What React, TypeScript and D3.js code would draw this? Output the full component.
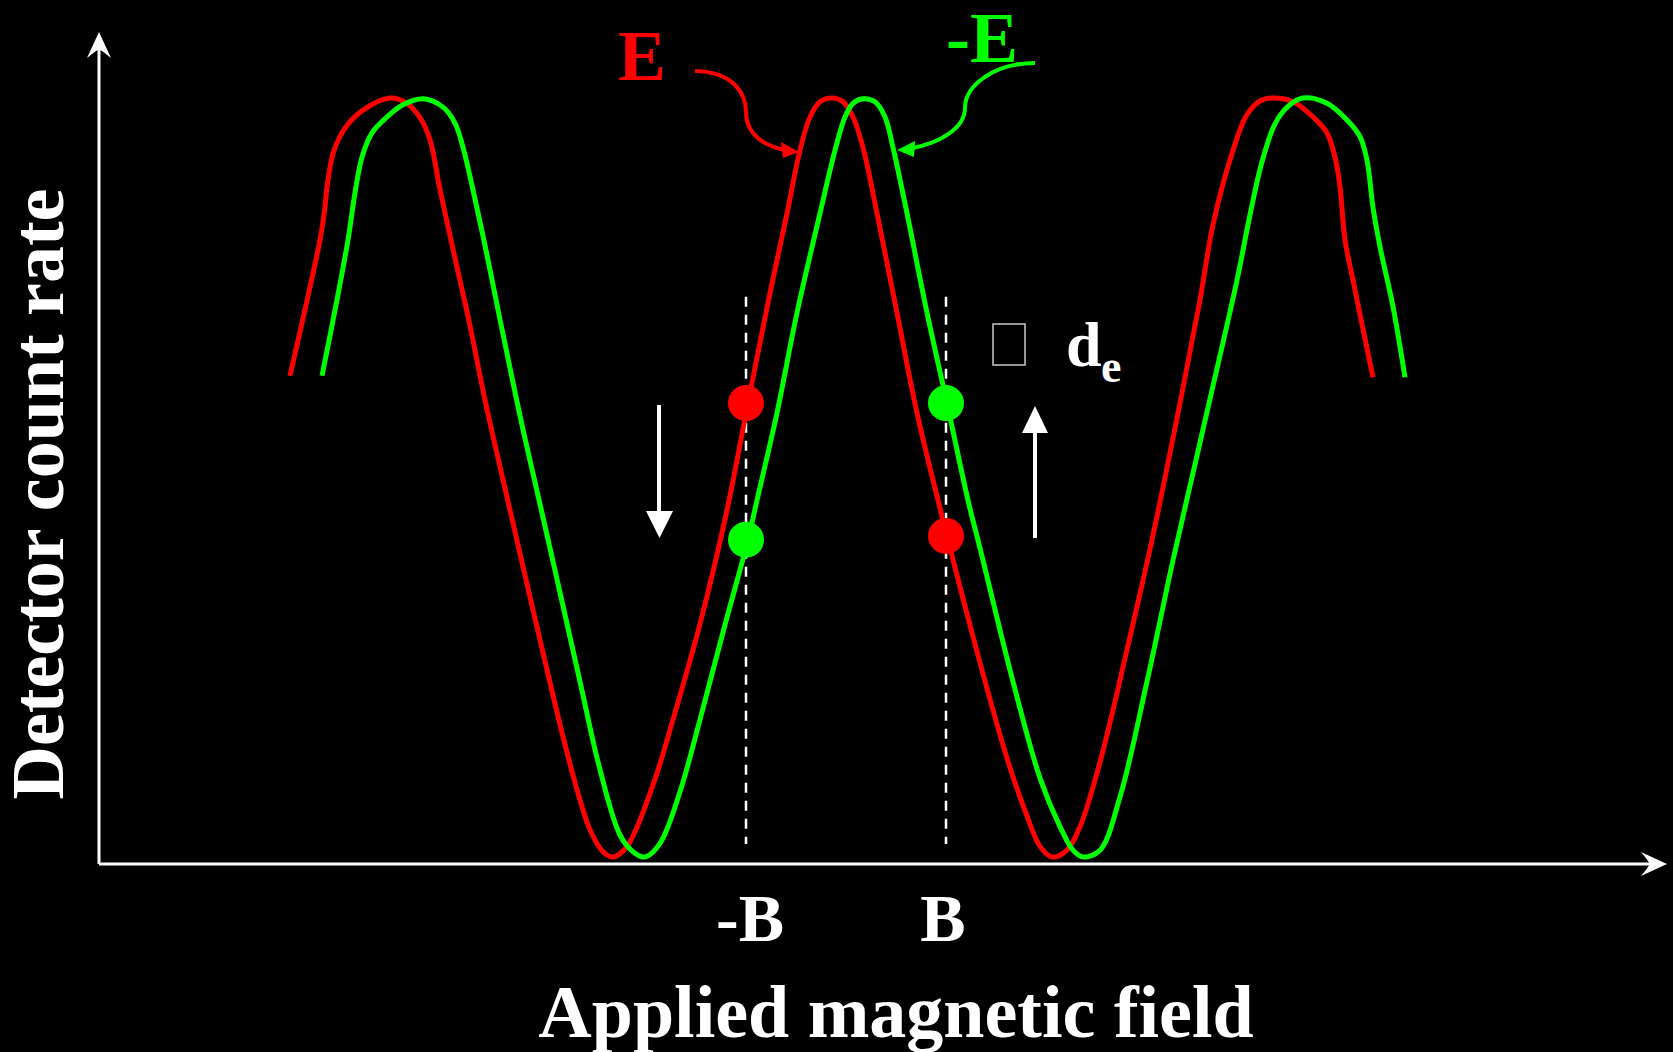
import React from "react";
import * as d3 from "d3";

// Detector count rate vs applied field for the two electric-field directions.
// Field in units of B, count rate in percent of the fringe maximum.
const redField = [
  -5.56, -5.26, -5.22, -5.18, -5.12, -5.0, -4.83, -4.56, -4.39, -4.26, -4.16, -4.06, -3.91, -3.76, -3.61,
  -3.36, -3.06, -2.81, -2.66, -2.56, -2.43, -2.33, -2.19, -1.93, -1.73, -1.46, -1.19, -0.98, -0.76, -0.59,
  -0.46, -0.36, -0.26, -0.14, -0.03, 0.07, 0.17, 0.31, 0.51, 0.71, 1.01, 1.34, 1.61, 1.81, 1.94, 2.06,
  2.21, 2.34, 2.54, 2.81, 3.07, 3.34, 3.54, 3.67, 3.87, 4.01, 4.14, 4.27, 4.47, 4.67, 4.81, 4.89, 4.94,
  4.99, 5.07, 5.27,
];
const redCount = [
  63.4, 81.3, 84.6, 89.2, 93.1, 96.2, 98.4, 100, 99.3, 97.4, 94.5, 87.9, 78.9, 70.0, 60.2,
  45.7, 28.6, 14.8, 7.5, 3.6, 0.7, 0, 1.4, 9.5, 18.1, 30.7, 45.7, 59.8, 74.3, 84.8,
  93.1, 97.5, 99.5, 100, 99.5, 97.5, 93.5, 84.8, 71.7, 58.5, 42.3, 25.6, 13.0, 5.4, 1.4, 0,
  0.9, 4.0, 12.5, 27.3, 42.4, 59.8, 73.4, 83.3, 93.1, 97.8, 99.6, 100, 99.5, 97.5, 95.4, 92.2, 88.3,
  81.3, 76.0, 63.2,
];

const greenField = [
  -5.24, -5.09, -4.98, -4.91, -4.84, -4.74, -4.59, -4.43, -4.23, -4.03, -3.91, -3.83, -3.73, -3.59, -3.46,
  -3.23, -2.96, -2.66, -2.46, -2.26, -2.13, -2.01, -1.86, -1.66, -1.46, -1.21, -0.98, -0.89, -0.69, -0.49,
  -0.26, -0.11, -0.01, 0.07, 0.17, 0.29, 0.39, 0.47, 0.61, 0.81, 1.01, 1.22, 1.34, 1.67, 1.94, 2.14,
  2.27, 2.37, 2.54, 2.74, 3.01, 3.27, 3.47, 3.66, 3.91, 4.04, 4.16, 4.29, 4.42, 4.57, 4.81, 5.01, 5.14,
  5.21, 5.27, 5.34, 5.47, 5.59,
];
const greenCount = [
  63.4, 73.4, 81.3, 87.5, 92.2, 95.4, 97.5, 99.1, 99.9, 98.8, 96.7, 93.5, 87.9, 79.3, 70.8,
  56.3, 40.7, 23.1, 11.5, 2.9, 0.7, 0, 1.8, 8.6, 18.1, 30.6, 41.8, 47.0, 58.5, 71.7,
  84.8, 93.1, 97.5, 99.3, 99.9, 99.5, 97.5, 93.5, 84.8, 71.7, 59.8, 47.0, 40.7, 23.1, 10.4, 4.0,
  0.9, 0, 0.9, 7.9, 23.1, 39.1, 50.6, 61.5, 76.0, 84.6, 91.6, 96.6, 98.9, 100, 99.3, 97.1, 94.9,
  91.8, 85.6, 80.4, 72.5, 63.2,
];

// Operating points at -B and +B
const bField = [-1, 1];
const bLabels = ["-B", "B"];
const redDotCount = [59.8, 42.3];
const greenDotCount = [41.8, 59.8];

const RED = "#ff0000";
const GREEN = "#00ff00";
const W = 1673;
const H = 1052;
const FONT = "'Liberation Serif', 'Times New Roman', serif";

export default function App() {
  const x = d3.scaleLinear().domain([-1, 1]).range([746, 946]);
  const y = d3.scaleLinear().domain([0, 100]).range([857, 98]);

  const line = d3
    .line<[number, number]>()
    .x((d) => x(d[0]))
    .y((d) => y(d[1]))
    .curve(d3.curveCatmullRom.alpha(0.5));

  const redPts = redField.map((f, i) => [f, redCount[i]] as [number, number]);
  const greenPts = greenField.map((f, i) => [f, greenCount[i]] as [number, number]);

  // axis frame
  const axX0 = 99;
  const axY0 = 864;
  const axTop = 32;
  const axRight = 1667;

  return (
    <svg
      width={W}
      height={H}
      style={{ position: "absolute", left: 0, top: 0, background: "#000" }}
    >
      <rect x={0} y={0} width={W} height={H} fill="#000" />

      {/* axes */}
      <line x1={axX0} y1={axY0} x2={axX0} y2={axTop + 14} stroke="#fff" strokeWidth={3} />
      <line x1={axX0} y1={axY0} x2={axRight - 14} y2={axY0} stroke="#fff" strokeWidth={3} />
      <path
        d={`M${axX0},${axTop} L${axX0 + 12},${axTop + 26} Q${axX0},${axTop + 16} ${axX0},${axTop + 18} Q${axX0},${axTop + 16} ${axX0 - 12},${axTop + 26} Z`}
        fill="#fff"
      />
      <path
        d={`M${axRight},${axY0} L${axRight - 26},${axY0 - 12} Q${axRight - 16},${axY0} ${axRight - 18},${axY0} Q${axRight - 16},${axY0} ${axRight - 26},${axY0 + 12} Z`}
        fill="#fff"
      />

      {/* guide lines at -B and B */}
      {bField.map((b) => (
        <line
          key={b}
          x1={x(b)}
          x2={x(b)}
          y1={y(73.8)}
          y2={y(1.7)}
          stroke="#fff"
          strokeWidth={2.5}
          strokeDasharray="10 8"
        />
      ))}

      {/* fringe curves */}
      <path d={line(redPts) || ""} fill="none" stroke={RED} strokeWidth={5} />
      <path d={line(greenPts) || ""} fill="none" stroke={GREEN} strokeWidth={5} />

      {/* operating points */}
      {bField.map((b, i) => (
        <g key={"dots" + b}>
          <circle cx={x(b)} cy={y(redDotCount[i])} r={18} fill={RED} />
          <circle cx={x(b)} cy={y(greenDotCount[i])} r={18} fill={GREEN} />
        </g>
      ))}

      {/* direction arrows */}
      <line x1={659} y1={405} x2={659} y2={514} stroke="#fff" strokeWidth={4} />
      <path d="M646,511 L673,511 L659.5,538 Z" fill="#fff" />
      <line x1={1035} y1={538} x2={1035} y2={430} stroke="#fff" strokeWidth={4} />
      <path d="M1022,433 L1048,433 L1035,406 Z" fill="#fff" />

      {/* E / -E labels with pointers */}
      <text x={642} y={80} fill={RED} fontFamily={FONT} fontWeight="bold" fontSize={72} textAnchor="middle">
        E
      </text>
      <path d="M695,71 C735,72 746,95 746,112 C746,135 765,146 785,150" fill="none" stroke={RED} strokeWidth={4} />
      <path d="M799,152 L781,142 L783,158 Z" fill={RED} />

      <text x={982} y={62} fill={GREEN} fontFamily={FONT} fontWeight="bold" fontSize={72} textAnchor="middle">
        -E
      </text>
      <path d="M1035,63 C995,63 965,85 965,108 C965,128 940,143 912,148" fill="none" stroke={GREEN} strokeWidth={4} />
      <path d="M897,150 L915,141 L914,157 Z" fill={GREEN} />

      {/* proportionality to d_e */}
      <rect x={993} y={324} width={32} height={41} fill="none" stroke="#c8c8c8" strokeWidth={1.5} />
      <text x={1066} y={366} fill="#fff" fontFamily={FONT} fontWeight="bold" fontSize={64}>
        d
      </text>
      <text x={1101} y={382} fill="#fff" fontFamily={FONT} fontWeight="bold" fontSize={46}>
        e
      </text>

      {/* field tick labels */}
      {bField.map((b, i) => (
        <text
          key={"lab" + b}
          x={x(b) + (i === 0 ? 4 : -3)}
          y={941}
          fill="#fff"
          fontFamily={FONT}
          fontWeight="bold"
          fontSize={68}
          textAnchor="middle"
        >
          {bLabels[i]}
        </text>
      ))}

      {/* axis titles */}
      <text x={896} y={1037} fill="#fff" fontFamily={FONT} fontWeight="bold" fontSize={74} textAnchor="middle">
        Applied magnetic field
      </text>
      <text
        transform="translate(63,494) rotate(-90)"
        fill="#fff"
        fontFamily={FONT}
        fontWeight="bold"
        fontSize={74}
        textAnchor="middle"
      >
        Detector count rate
      </text>
    </svg>
  );
}
